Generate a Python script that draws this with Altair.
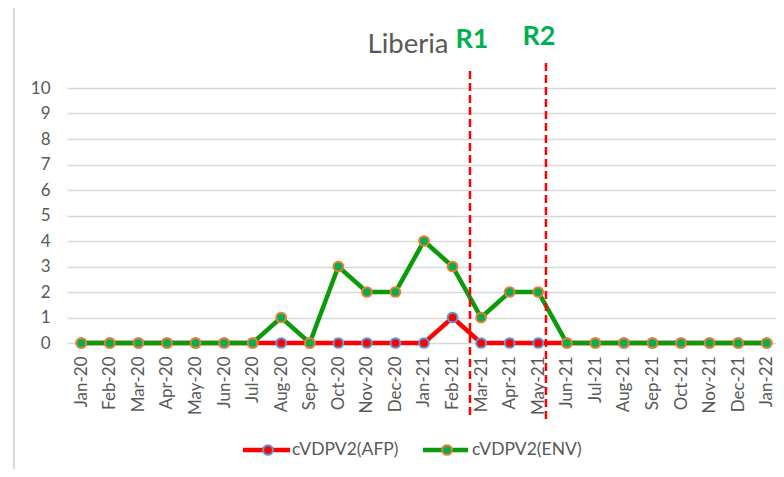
import altair as alt
import pandas as pd

months = ["Jan-20", "Feb-20", "Mar-20", "Apr-20", "May-20", "Jun-20", "Jul-20",
          "Aug-20", "Sep-20", "Oct-20", "Nov-20", "Dec-20", "Jan-21", "Feb-21",
          "Mar-21", "Apr-21", "May-21", "Jun-21", "Jul-21", "Aug-21", "Sep-21",
          "Oct-21", "Nov-21", "Dec-21", "Jan-22"]
afp = [0, 0, 0, 0, 0, 0, 0, 0, 0, 0, 0, 0, 0, 1, 0, 0, 0, 0, 0, 0, 0, 0, 0, 0, 0]
env = [0, 0, 0, 0, 0, 0, 0, 1, 0, 3, 2, 2, 4, 3, 1, 2, 2, 0, 0, 0, 0, 0, 0, 0, 0]
series_names = ["cVDPV2(AFP)", "cVDPV2(ENV)"]
round_labels = ["R1", "R2"]
round_pos = [13.61, 16.27]          # position on the month axis
round_top = [10.82, 11.02]
round_bottom = [-2.82, -2.98]
y_ticks = list(range(0, 11))

GRAY = "#595959"
FONT = "Lato"

rows = []
for i, m in enumerate(months):
    rows.append({"idx": i, "month": m, "value": afp[i], "series": series_names[0]})
    rows.append({"idx": i, "month": m, "value": env[i], "series": series_names[1]})
df = pd.DataFrame(rows)
rdf = pd.DataFrame({"label": round_labels, "x": round_pos, "y1": round_bottom, "y2": round_top})

label_expr = "[" + ",".join("'" + m + "'" for m in months) + "][datum.value]"

x_scale = alt.Scale(domain=[-0.5, 24.325], nice=False, zero=False)
y_scale = alt.Scale(domain=[0, 10], nice=False)
x_axis = alt.Axis(values=list(range(len(months))), labelExpr=label_expr,
                  labelAngle=-90, labelAlign="right", labelBaseline="middle",
                  labelPadding=13, ticks=False, domain=False, grid=False,
                  labelFont=FONT, labelFontSize=17, labelColor=GRAY,
                  title=None, labelOverlap=False, labelBound=False, labelFlush=False)
y_axis = alt.Axis(values=y_ticks, grid=True, gridColor="#d9d9d9", gridWidth=1.5,
                  ticks=False, domain=False, labelPadding=17, labelOverlap=False,
                  labelFont=FONT, labelFontSize=17, labelColor=GRAY, title=None)
x_enc = alt.X("idx:Q", scale=x_scale, axis=x_axis)
y_enc = alt.Y("value:Q", scale=y_scale, axis=y_axis)

base = alt.Chart(df)

red_line = base.transform_filter(alt.datum.series == series_names[0]).mark_line(
    color="#ff0000", strokeWidth=4.5).encode(x=x_enc, y=y_enc)
red_pts = base.transform_filter(alt.datum.series == series_names[0]).mark_point(
    shape="circle", filled=True, fill="#ff0000", stroke="#5b9bd5", strokeWidth=2,
    size=95, opacity=1).encode(x=x_enc, y=y_enc)
green_line = base.transform_filter(alt.datum.series == series_names[1]).mark_line(
    color="#0a9a0a", strokeWidth=4.5).encode(x=x_enc, y=y_enc)
green_pts = base.transform_filter(alt.datum.series == series_names[1]).mark_point(
    shape="circle", filled=True, fill="#00b050", stroke="#ed7d31", strokeWidth=2,
    size=95, opacity=1).encode(x=x_enc, y=y_enc)

rules = alt.Chart(rdf).mark_rule(color="#ff0000", strokeWidth=2.5, strokeDash=[8, 4]).encode(
    x=alt.X("x:Q", scale=x_scale, axis=x_axis), y=alt.Y("y1:Q", scale=y_scale, axis=y_axis),
    y2="y2:Q")

r1_text = alt.Chart(rdf).transform_filter(alt.datum.label == "R1").mark_text(
    font=FONT, fontSize=27, fontWeight="bold", color="#00b050", align="center",
    baseline="alphabetic").encode(text="label:N", x=alt.value(405), y=alt.value(-40))
r2_text = alt.Chart(rdf).transform_filter(alt.datum.label == "R2").mark_text(
    font=FONT, fontSize=27, fontWeight="bold", color="#00b050", align="center",
    baseline="alphabetic").encode(text="label:N", x=alt.value(472), y=alt.value(-43))

title_df = pd.DataFrame({"t": ["Liberia"]})
title = alt.Chart(title_df).mark_text(font=FONT, fontSize=27.5, color=GRAY, align="center",
                                      baseline="alphabetic").encode(
    text="t:N", x=alt.value(341), y=alt.value(-35))

# legend
leg_df = pd.DataFrame({"name": series_names})
def legend_item(name, line_color, fill, stroke, x0, x1, xc, xt):
    d = alt.Chart(leg_df).transform_filter(alt.datum.name == name)
    ln = d.mark_rule(color=line_color, strokeWidth=4.5).encode(
        x=alt.value(x0), x2=alt.value(x1), y=alt.value(362))
    pt = d.mark_point(shape="circle", filled=True, fill=fill, stroke=stroke, strokeWidth=2,
                      size=95, opacity=1).encode(x=alt.value(xc), y=alt.value(362))
    tx = d.mark_text(font=FONT, fontSize=17.5, color=GRAY, align="left", baseline="middle").encode(
        text="name:N", x=alt.value(xt), y=alt.value(362))
    return [ln, pt, tx]

leg = legend_item(series_names[0], "#ff0000", "#ff0000", "#5b9bd5", 176, 223, 201, 225) + \
      legend_item(series_names[1], "#0a9a0a", "#00b050", "#ed7d31", 356, 401, 380, 405)

# chart border
border_df = pd.DataFrame({"b": [0]})
bl = alt.Chart(border_df).mark_rule(color="#d9d9d9", strokeWidth=2).encode(
    x=alt.value(-53), y=alt.value(-81), y2=alt.value(400))
bt = alt.Chart(border_df).mark_rule(color="#d9d9d9", strokeWidth=2).encode(
    x=alt.value(-53), x2=alt.value(720), y=alt.value(-81))

chart = alt.layer(red_line, red_pts, green_line, green_pts, rules, r1_text, r2_text, title,
                  *leg, bl, bt).properties(
    width=709, height=255,
    autosize=alt.AutoSizeParams(type="none"),
    padding={"left": 59, "top": 80, "right": 0, "bottom": 126},
).configure(background="white").configure_view(stroke=None).configure_axis(labelOverlap=False)

chart.save("out.html", embed_options={"renderer": "svg", "actions": False})
